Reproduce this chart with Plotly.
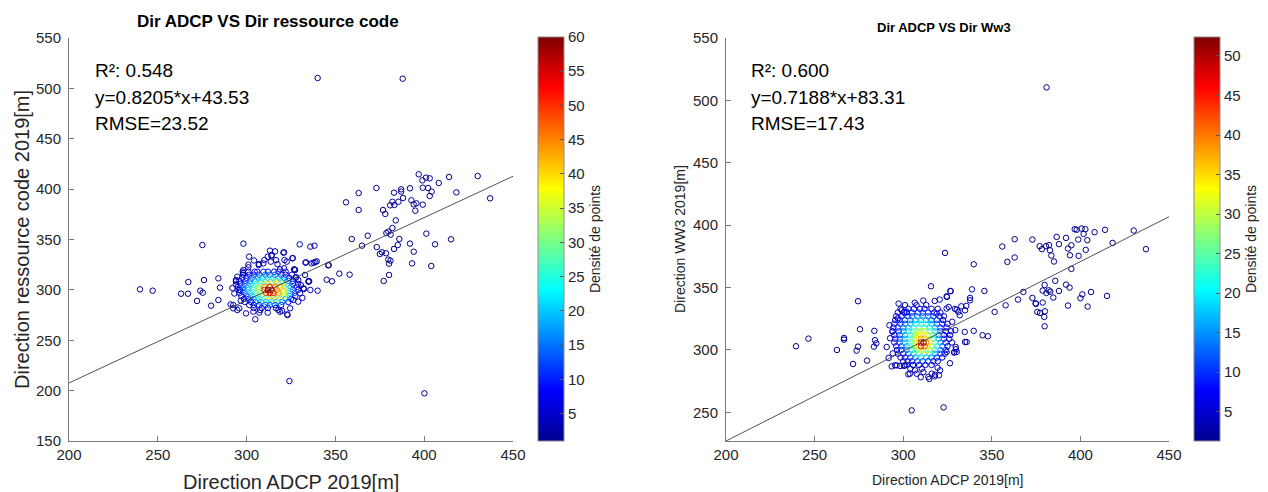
import plotly.graph_objects as go

W, H = 1268, 492

# ---------------- data ----------------
# Left panel: Dir ADCP (x) vs Dir ressource code (y)
left_slope, left_icpt = 0.8205, 43.53
left_r2, left_rmse = 0.548, 23.52

left_far_pts = [  # isolated points (density ~1)
    [340.0, 510.3], [387.9, 509.6], [324.1, 209.5], [400.1, 197.3], [437.1, 390.9],
    [430.1, 413.0], [414.0, 412.0], [418.1, 396.8], [408.2, 406.1], [396.9, 414.7],
    [399.0, 408.7], [401.0, 411.4], [403.1, 410.7], [402.2, 401.1], [404.2, 397.5],
    [403.1, 393.2], [399.2, 401.4], [392.0, 400.8], [387.0, 399.8], [387.0, 397.5],
    [383.0, 396.5], [385.5, 387.5], [382.1, 387.5], [383.2, 384.2], [380.8, 383.9],
    [388.1, 391.2], [392.8, 388.9], [394.1, 384.9], [395.0, 378.6], [395.6, 385.9],
    [399.2, 384.6], [376.8, 379.3], [378.1, 375.3], [384.0, 369.0], [373.1, 401.1],
    [363.1, 396.1], [356.0, 386.9], [363.1, 379.3], [382.1, 361.4], [379.8, 357.8],
    [378.7, 356.4], [381.1, 354.8], [368.2, 353.8], [359.2, 350.5], [365.0, 343.9],
    [373.3, 342.5], [376.2, 337.3], [375.0, 335.6], [378.5, 336.3], [383.0, 340.6],
    [385.1, 344.5], [386.0, 350.5], [392.0, 345.9], [394.1, 337.9], [401.2, 355.8],
    [406.1, 345.2], [415.1, 350.2], [379.8, 330.0], [381.0, 329.0], [380.2, 326.0],
    [393.2, 326.3], [404.0, 323.7], [380.2, 314.8], [377.2, 308.8], [358.0, 315.1],
    [352.2, 316.1], [345.1, 310.1], [348.1, 308.5], [346.0, 324.3], [346.2, 324.7],
    [240.0, 300.5], [247.1, 299.2], [263.1, 296.2], [267.0, 296.2], [267.2, 307.8],
    [273.9, 299.2], [275.3, 297.2], [272.1, 289.0], [275.1, 344.5], [276.0, 309.8],
    [284.1, 311.4], [285.0, 302.2], [284.1, 289.9], [280.0, 284.3],
]
left_near_pts = [  # scattered points around the main cloud (density ~3)
    [338.7, 327.7], [337.8, 327.0], [335.9, 342.9], [338.2, 343.9], [329.9, 345.2],
    [333.1, 327.0], [335.2, 308.5], [335.9, 299.9], [340.0, 299.2], [330.1, 296.6],
    [329.1, 288.3], [332.3, 300.9], [327.1, 320.0], [325.8, 331.3], [321.1, 337.3],
    [316.0, 338.2], [313.2, 338.9], [298.2, 345.9], [291.0, 285.6], [294.0, 308.5],
    [294.0, 305.5], [298.1, 316.7], [301.0, 325.0], [304.9, 270.8], [307.2, 277.4],
    [322.9, 275.7], [319.9, 279.3], [301.4, 333.0], [306.8, 324.7], [309.4, 326.3],
    [311.9, 333.0], [314.1, 334.6], [313.6, 328.0], [316.6, 329.6], [320.7, 336.9],
    [326.0, 331.6], [322.6, 328.0], [327.3, 319.7], [321.1, 321.4], [318.8, 320.4],
    [297.8, 318.1], [294.8, 313.1], [292.5, 281.7], [294.8, 280.0], [299.7, 276.7],
    [303.8, 278.4], [307.6, 280.0], [317.9, 280.0], [324.5, 281.7], [326.3, 290.0],
    [334.8, 308.1], [336.6, 326.3], [332.9, 314.8], [329.1, 309.8], [296.3, 299.9],
    [314.0, 333.9], [310.0, 329.6], [307.0, 325.7], [321.3, 329.6], [326.7, 320.4],
    [333.5, 327.3], [339.5, 328.3], [301.0, 322.4], [294.0, 309.8], [298.2, 319.7],
    [335.0, 308.8], [332.0, 301.5], [323.0, 275.0], [318.8, 278.3], [311.9, 277.4],
    [295.9, 281.7], [292.5, 285.0], [293.1, 296.4], [292.0, 301.8], [296.8, 289.3],
    [330.6, 304.7], [327.9, 312.6], [331.4, 292.1], [304.2, 329.2], [317.4, 325.5],
]
left_far_d, left_near_d = 1, 3

left_core_y = [318, 315, 312, 309, 306, 303, 300, 297, 294, 291, 288, 285, 282]
left_core_x = [
    [301, 304.5, 306, 309.5, 312, 315.5, 318, 322],
    [298, 301.5, 304, 307, 310.5, 313, 316, 319.5, 322, 325.5],
    [297.5, 300, 303, 306.5, 309, 312, 315, 318.5, 321, 324, 327.5],
    [296, 299.5, 302, 305, 308, 311, 314, 317, 320, 323.5, 326],
    [296.5, 299, 302, 305, 308, 311, 314, 317, 320, 323, 326, 329],
    [295, 298, 301, 304, 307, 310, 313, 316, 319, 322, 325, 328.5],
    [295.5, 298, 301, 304, 307, 310, 312, 314, 317, 320, 323, 326, 329],
    [296, 299, 302, 305, 308, 311, 313, 315, 318, 321, 324, 327],
    [297, 300, 303, 306, 309, 312, 315, 318, 321, 324, 327.5],
    [298.5, 301, 304, 307, 310, 313, 316, 319, 322, 325],
    [299, 302.5, 305, 308, 311, 314, 317, 320, 323.5],
    [301.5, 304, 307, 310.5, 313, 316, 319.5],
    [304, 308.5, 312, 316.5],
]
left_core_d = [
    [4, 6, 8, 9, 10, 9, 7, 4],
    [4, 7, 10, 12, 14, 14, 13, 10, 7, 4],
    [5, 9, 13, 16, 19, 20, 20, 18, 13, 8, 4],
    [5, 10, 15, 20, 24, 27, 28, 27, 22, 14, 7],
    [6, 12, 18, 24, 30, 36, 40, 40, 33, 20, 10, 5],
    [6, 13, 20, 27, 32, 46, 55, 46, 42, 28, 14, 6],
    [6, 13, 20, 27, 33, 52, 60, 58, 45, 38, 26, 13, 6],
    [6, 12, 19, 26, 32, 50, 57, 52, 44, 36, 22, 11],
    [5, 11, 17, 24, 30, 38, 42, 40, 32, 18, 8],
    [5, 10, 15, 20, 25, 28, 30, 27, 18, 9],
    [4, 8, 12, 16, 18, 19, 18, 14, 7],
    [4, 7, 9, 11, 11, 10, 7],
    [3, 5, 5, 4],
]

# Right panel: Dir ADCP (x) vs Dir WW3 (y)
right_slope, right_icpt = 0.7188, 83.31
right_r2, right_rmse = 0.600, 17.43

right_far_pts = [
    [380.9, 510.4], [239.5, 303.0], [246.5, 309.1], [262.6, 300.0], [266.6, 308.3],
    [266.6, 309.6], [274.5, 339.1], [275.6, 316.6], [273.7, 299.5], [274.5, 302.7],
    [271.7, 288.8], [279.6, 291.5], [304.8, 251.6], [322.8, 254.0], [323.6, 377.8],
    [339.8, 368.7], [355.9, 382.9], [362.9, 388.8], [358.8, 370.6], [362.9, 374.1],
    [372.9, 388.5], [377.0, 383.2], [378.3, 380.8], [380.6, 383.2], [382.3, 384.0],
    [382.8, 379.9], [383.6, 375.7], [385.1, 370.9], [386.6, 390.6], [387.9, 384.8],
    [391.9, 389.8], [393.0, 381.3], [394.1, 375.9], [394.9, 383.9], [396.8, 396.8],
    [397.9, 396.3], [400.7, 397.3], [402.8, 396.8], [401.8, 393.0], [398.8, 388.5],
    [403.9, 388.0], [399.0, 375.4], [403.0, 380.2], [408.0, 394.4], [413.9, 396.3],
    [418.2, 385.8], [430.1, 395.7], [437.0, 380.8], [394.9, 365.0], [385.8, 355.4],
    [379.8, 352.1], [378.7, 347.6], [380.8, 345.7], [382.1, 347.8], [383.0, 346.8],
    [384.7, 342.0], [387.9, 347.3], [391.9, 352.4], [393.9, 350.0], [393.0, 335.6],
    [400.0, 341.5], [401.1, 344.6], [406.0, 346.5], [404.1, 334.8], [415.0, 343.3],
    [372.9, 341.7], [374.7, 337.4], [374.9, 337.0], [378.7, 338.0], [375.7, 330.5],
    [377.2, 329.7], [380.0, 331.0], [379.6, 326.5], [379.8, 319.0], [367.8, 346.5],
    [364.8, 340.4], [357.8, 335.8], [351.6, 330.5], [345.8, 347.3], [344.8, 311.8],
    [347.8, 311.0],
]
right_near_pts = [
    [283.5, 302.7], [284.8, 305.4], [283.7, 315.3], [284.1, 307.8], [290.7, 302.4],
    [293.9, 314.7], [297.4, 337.2], [292.2, 319.8], [315.7, 351.1], [326.8, 347.1],
    [324.7, 342.5], [331.1, 330.5], [329.2, 332.9], [334.7, 314.5], [329.8, 300.6],
    [328.7, 297.9], [314.7, 276.8], [317.7, 278.9], [301.0, 287.7], [302.9, 280.5],
    [293.5, 286.9], [296.3, 287.7], [338.8, 348.6], [337.7, 341.7], [337.7, 339.8],
    [335.6, 335.3], [332.8, 335.0], [330.2, 332.3], [331.9, 327.8], [326.6, 347.3],
    [324.5, 343.0], [320.6, 340.4], [317.8, 339.3], [325.7, 334.5], [300.6, 330.5],
    [302.0, 330.5], [339.8, 315.3], [335.8, 306.4], [329.6, 302.4], [328.9, 298.4],
    [318.0, 280.2], [320.8, 283.7], [319.4, 285.8], [303.8, 281.0], [306.7, 283.7],
    [311.4, 282.3], [295.4, 287.7], [298.2, 287.2], [300.4, 287.2], [299.1, 331.8],
    [318.9, 329.2], [324.5, 333.2], [334.9, 331.8], [334.9, 306.4], [324.5, 298.4],
    [330.2, 298.4], [316.1, 281.0], [320.2, 279.7], [314.2, 278.4], [307.6, 281.0],
    [292.6, 309.4], [294.1, 297.3], [291.8, 293.6], [327.7, 322.6], [329.4, 315.9],
    [306.5, 337.9], [311.3, 339.6], [297.0, 325.4], [326.4, 289.4], [309.9, 278.2],
]
right_far_d, right_near_d = 1.3, 3

right_core_y = [336, 333, 330, 327, 324, 321, 318, 315, 312, 309, 306, 303, 300, 297, 294, 291, 288, 285]
right_core_x = [
    [301, 307.5, 313],
    [298.5, 303, 306, 309.5, 312, 316, 319.5],
    [297, 300.5, 302, 305, 308.5, 311, 314, 317.5, 321],
    [296, 299, 302.5, 305, 308, 311, 314, 317, 320.5, 323],
    [295.5, 298, 301, 304, 307, 310, 313, 316, 319, 322.5],
    [295, 298.5, 301, 304, 307, 310, 313, 316, 319, 322, 325],
    [294.5, 297, 300, 303, 306, 309, 312, 315, 318, 321, 324.5],
    [294, 297.5, 300, 303, 306, 308, 310, 312, 315, 318, 321, 324, 327],
    [295, 298, 301, 304, 306, 308, 310, 312, 314, 317, 320, 323, 326.5],
    [295.5, 298, 301, 304, 306, 308, 310, 312, 314, 317, 320, 323, 326],
    [295, 298, 301, 304, 306, 308, 310, 311.5, 313, 315, 318, 321, 324, 327.5],
    [296, 299, 302, 304, 306, 308, 310, 312, 314, 316, 319, 322, 325],
    [296.5, 299, 302, 305, 307, 309, 311, 313, 315, 318, 321, 324],
    [297, 300, 303, 306, 309, 312, 315, 318, 321, 323.5],
    [298.5, 301, 304, 307, 310, 313, 316, 319, 322],
    [300, 302.5, 305, 308, 311, 314, 317, 319.5],
    [302, 305.5, 309, 312.5, 316],
    [304, 310.5],
]
right_core_d = [
    [3, 4, 3],
    [4, 5, 6, 7, 6, 5, 3],
    [4, 6, 8, 9, 10, 10, 9, 7, 4],
    [5, 7, 9, 11, 13, 13, 12, 10, 7, 4],
    [5, 8, 11, 14, 16, 17, 16, 13, 10, 6],
    [6, 9, 12, 15, 19, 21, 20, 17, 12, 8, 5],
    [6, 9, 13, 17, 21, 24, 24, 21, 15, 10, 5],
    [6, 10, 14, 19, 25, 28, 31, 30, 25, 18, 11, 6, 3],
    [7, 11, 16, 21, 27, 32, 34, 33, 29, 22, 14, 8, 4],
    [7, 11, 16, 22, 28, 33, 38, 36, 30, 23, 15, 9, 4],
    [7, 11, 16, 22, 29, 35, 48, 52, 40, 31, 24, 15, 8, 4],
    [6, 10, 16, 22, 28, 34, 45, 42, 33, 27, 20, 12, 6],
    [6, 10, 14, 20, 26, 30, 32, 30, 26, 19, 12, 6],
    [5, 8, 12, 17, 22, 24, 21, 15, 9, 5],
    [4, 7, 10, 14, 16, 15, 12, 8, 4],
    [3, 5, 8, 10, 10, 9, 6, 3],
    [3, 4, 5, 4, 3],
    [2, 2],
]

x_ticks = [200, 250, 300, 350, 400, 450]
left_y_ticks = [150, 200, 250, 300, 350, 400, 450, 500, 550]
right_y_ticks = [250, 300, 350, 400, 450, 500, 550]
left_cb_ticks = [5, 10, 15, 20, 25, 30, 35, 40, 45, 50, 55, 60]
right_cb_ticks = [5, 10, 15, 20, 25, 30, 35, 40, 45, 50]


# ---------------- build ----------------
def assemble(far, far_d, near, near_d, cy, cx, cd):
    pts = [(p[0], p[1], far_d) for p in far] + [(p[0], p[1], near_d) for p in near]
    for yv, xs, ds in zip(cy, cx, cd):
        for xv, dv in zip(xs, ds):
            pts.append((xv, yv, dv))
    pts.sort(key=lambda t: t[2])
    return [p[0] for p in pts], [p[1] for p in pts], [p[2] for p in pts]


lx, ly, ld = assemble(left_far_pts, left_far_d, left_near_pts, left_near_d,
                      left_core_y, left_core_x, left_core_d)
rx, ry, rd = assemble(right_far_pts, right_far_d, right_near_pts, right_near_d,
                      right_core_y, right_core_x, right_core_d)

jet = [[0, '#00008F'], [0.125, '#0000FF'], [0.375, '#00FFFF'],
       [0.625, '#FFFF00'], [0.875, '#FF0000'], [1, '#800000']]

FONT = 'Liberation Sans, Arial, sans-serif'
TXT = '#262626'
AX = '#7a7a7a'


def cbar(xpx, ticks):
    return dict(x=xpx / W, xanchor='left', y=1 - 239 / H, yanchor='middle',
                len=404 / H, lenmode='fraction', thickness=26, thicknessmode='pixels',
                xpad=0, ypad=0, outlinewidth=1, outlinecolor='#8c8c8c',
                ticks='inside', ticklen=4, tickcolor='#555555',
                tickvals=ticks, tickfont=dict(size=15, color=TXT, family=FONT),
                title=dict(text='Densité de points', side='right',
                           font=dict(size=14, color=TXT, family=FONT)))


fig = go.Figure()
fig.add_trace(go.Scatter(
    x=lx, y=ly, mode='markers', xaxis='x', yaxis='y', showlegend=False,
    marker=dict(symbol='circle-open', size=5.5, color=ld, colorscale=jet,
                cmin=1, cmax=60, line=dict(width=1), colorbar=cbar(538, left_cb_ticks))))
fig.add_trace(go.Scatter(
    x=rx, y=ry, mode='markers', xaxis='x2', yaxis='y2', showlegend=False,
    marker=dict(symbol='circle-open', size=5.5, color=rd, colorscale=jet,
                cmin=1.3, cmax=52.4, line=dict(width=1), colorbar=cbar(1194, right_cb_ticks))))

lx_line = [x_ticks[0], x_ticks[-1]]
fig.add_trace(go.Scatter(x=lx_line, y=[left_slope * v + left_icpt for v in lx_line],
                         mode='lines', xaxis='x', yaxis='y', showlegend=False,
                         line=dict(color='#404040', width=0.9)))
fig.add_trace(go.Scatter(x=lx_line, y=[right_slope * v + right_icpt for v in lx_line],
                         mode='lines', xaxis='x2', yaxis='y2', showlegend=False,
                         line=dict(color='#404040', width=0.9)))

axis_common = dict(showgrid=False, zeroline=False, showline=True, linecolor=AX, linewidth=1,
                   ticks='inside', ticklen=5, tickcolor=AX, mirror=False, automargin=False,
                   tickfont=dict(size=15, color=TXT, family=FONT))

fig.update_layout(
    width=W, height=H, margin=dict(l=0, r=0, t=0, b=0, autoexpand=False),
    paper_bgcolor='white', plot_bgcolor='white',
    font=dict(family=FONT, color=TXT),
    xaxis=dict(domain=[69 / W, 513 / W], range=[200, 450], tickvals=x_ticks, anchor='y',
               **axis_common),
    yaxis=dict(domain=[1 - 441 / H, 1 - 38 / H], range=[150, 550], tickvals=left_y_ticks,
               anchor='x', ticklabelstandoff=4, **axis_common),
    xaxis2=dict(domain=[726 / W, 1169 / W], range=[200, 450], tickvals=x_ticks, anchor='y2',
                **axis_common),
    yaxis2=dict(domain=[1 - 441 / H, 1 - 38 / H], range=[right_icpt + right_slope * 200, 550],
                tickvals=right_y_ticks, anchor='x2', ticklabelstandoff=4, **axis_common),
)

ann = []


def a(text, xpx, ypx, size, xanchor='center', bold=False, angle=0, color=TXT):
    ann.append(dict(text=('<b>%s</b>' % text) if bold else text, x=xpx / W, y=1 - ypx / H,
                    xref='paper', yref='paper', xanchor=xanchor, yanchor='middle',
                    showarrow=False, textangle=angle,
                    font=dict(size=size, color=color, family=FONT)))


a('Dir ADCP VS Dir ressource code', 268, 22, 17, bold=True, color='#000000')
a('Dir ADCP VS Dir Ww3', 944, 27, 13, bold=True, color='#000000')
a('Direction ADCP 2019[m]', 291, 482, 20)
a('Direction ressource code 2019[m]', 22, 240, 20, angle=-90)
a('Direction ADCP 2019[m]', 947, 480, 14)
a('Direction WW3 2019[m]', 680, 239, 14, angle=-90)

for xs, r2, sl, ic, rm in [(93, left_r2, left_slope, left_icpt, left_rmse),
                           (749, right_r2, right_slope, right_icpt, right_rmse)]:
    a('R²: %.3f' % r2, xs, 70, 19, xanchor='left', color='#000000')
    a('y=%.4f*x+%.2f' % (sl, ic), xs, 97, 19, xanchor='left', color='#000000')
    a('RMSE=%.2f' % rm, xs, 123, 19, xanchor='left', color='#000000')

fig.update_layout(annotations=ann)
fig.write_html('out.html')
